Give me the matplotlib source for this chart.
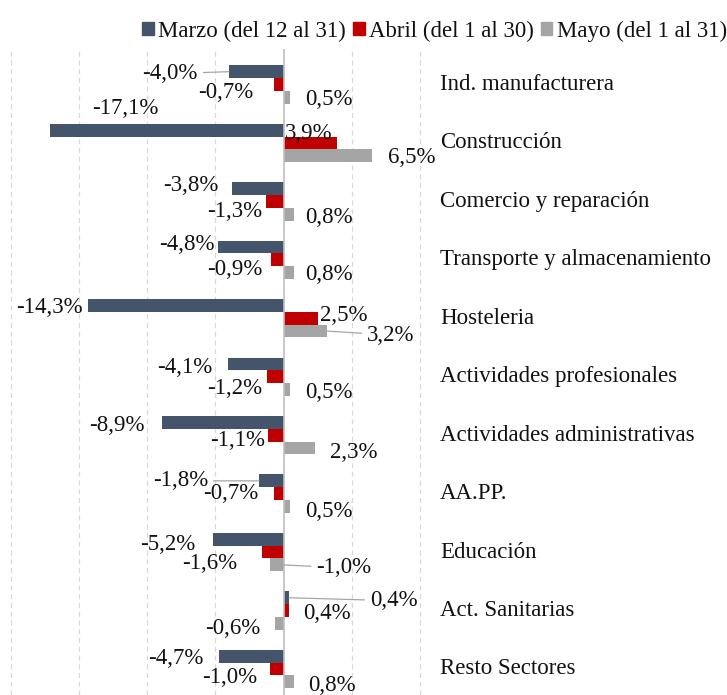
import numpy as np
import matplotlib.pyplot as plt
from matplotlib.patches import Patch

# =====================================================
# Data
# =====================================================

sectores = [
    "Ind. manufacturera",
    "Construcción",
    "Comercio y reparación",
    "Transporte y almacenamiento",
    "Hosteleria",
    "Actividades profesionales",
    "Actividades administrativas",
    "AA.PP.",
    "Educación",
    "Act. Sanitarias",
    "Resto Sectores",
]

series_names = ["Marzo (del 12 al 31)", "Abril (del 1 al 30)", "Mayo (del 1 al 31)"]

marzo = [-4.0, -17.1, -3.8, -4.8, -14.3, -4.1, -8.9, -1.8, -5.2, 0.4, -4.7]
abril = [-0.7, 3.9, -1.3, -0.9, 2.5, -1.2, -1.1, -0.7, -1.6, 0.4, -1.0]
mayo = [0.5, 6.5, 0.8, 0.8, 3.2, 0.5, 2.3, 0.5, -1.0, -0.6, 0.8]

colors = ["#44546A", "#C00000", "#A5A5A5"]

# label offsets in pixels from the bar end (dx right, dy down), leader flag
label_pos = [
    [(-31, 0, True), (-21, 6.5, False), (15, 0, False)],
    [(42, -24, False), (-4, -11, False), (16, 0, False)],
    [(-13.5, -5.5, False), (-4, 8.5, False), (10.5, 1, False)],
    [(-3, -5, False), (-9, 8, False), (10.5, 0, False)],
    [(-6, 0.5, False), (2.5, -5, False), (40, 2, True)],
    [(-15.5, 2, False), (-5, 10, False), (15, 0.5, False)],
    [(-17, 1.5, False), (-3.5, 3, False), (15, 3, False)],
    [(-51, -2, True), (-16, -2.5, False), (15, 3.5, False)],
    [(-17.5, 3, False), (-24.5, 9, False), (33, 1, True)],
    [(81, 1, True), (14, 0.5, False), (-15, 3, False)],
    [(-16, 0, False), (-13, 7, False), (13.5, 2, False)],
]

# =====================================================
# Plot
# =====================================================

plt.rcParams['font.family'] = ['Liberation Serif', 'DejaVu Serif']
text_color = "#111111"
fs = 16.5

fig = plt.figure(figsize=(7.27, 6.95), dpi=100)
ax = fig.add_axes([0, 0, 1, 1 - 49 / 695])

y = np.arange(len(sectores))
bh = 0.219
offsets = [-bh, 0, bh]

for k, vals in enumerate([marzo, abril, mayo]):
    ax.barh(y + offsets[k], vals, height=bh, color=colors[k], zorder=3)

# grid
for gx in range(-20, 11, 5):
    if gx == 0:
        ax.axvline(0, color="#bfbfbf", lw=1.2, zorder=4)
    else:
        ax.axvline(gx, color="#d9d9d9", lw=0.9, ls=(0, (4, 3)), zorder=1)

# data labels
for i in range(len(sectores)):
    for k, vals in enumerate([marzo, abril, mayo]):
        v = vals[i]
        dx, dy, leader = label_pos[i][k]
        dy += 2  # visual centre of digits sits a bit lower
        txt = f"{v:.1f}".replace(".", ",") + "%"
        ha = "right" if dx < 0 else "left"
        target = v if np.sign(dx) == np.sign(v) or dx < 0 else 0
        arrow = dict(arrowstyle="-", color="#a6a6a6", lw=0.9,
                     shrinkA=2, shrinkB=0) if leader else None
        ax.annotate(txt, xy=(target if leader else v, y[i] + offsets[k]),
                    xytext=(dx, -dy), textcoords="offset pixels",
                    ha=ha, va="center", fontsize=fs, color=text_color,
                    arrowprops=arrow, zorder=5)

# category labels
for i, s in enumerate(sectores):
    ax.text(11.47, y[i], s, ha="left", va="center", fontsize=fs,
            color=text_color)

ax.set_xlim(-20.77, 32.49)
ax.set_ylim(10.445, -0.607)
ax.set_axis_off()

handles = [Patch(color=c) for c in colors]
fig.legend(handles, series_names, loc="center", bbox_to_anchor=(0.598, 1 - 31 / 695),
           ncol=3, frameon=False, fontsize=fs, handlelength=0.5, handleheight=0.5,
           handletextpad=0.2, columnspacing=0.3, labelcolor=text_color,
           borderaxespad=0, borderpad=0)

fig.savefig("out.png", dpi=100)
